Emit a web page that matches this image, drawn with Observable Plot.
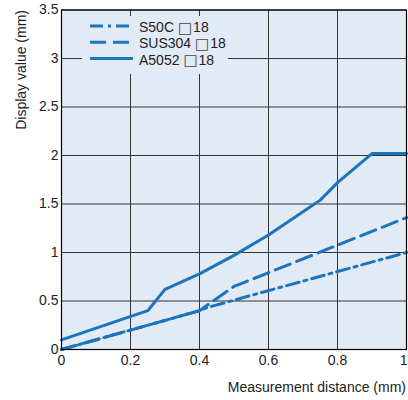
<!DOCTYPE html>
<html><head><meta charset="utf-8">
<script src="https://cdn.jsdelivr.net/npm/d3@7"></script>
<script src="https://cdn.jsdelivr.net/npm/@observablehq/plot@0.6"></script>
<style>body{margin:0;background:#fff}</style>
</head><body><div id="chart"></div>
<script>
const xTicks = [0, 0.2, 0.4, 0.6, 0.8, 1];
const yTicks = [0, 0.5, 1, 1.5, 2, 2.5, 3, 3.5];
const seriesNames = ["S50C \u25A118", "SUS304 \u25A118", "A5052 \u25A118"];
const s50cX = [0, 0.4, 0.42, 1];
const s50cY = [0, 0.4, 0.43, 1.0];
const sus304X = [0, 0.4, 0.5, 1];
const sus304Y = [0, 0.4, 0.65, 1.36];
const a5052X = [0, 0.25, 0.3, 0.4, 0.5, 0.6, 0.7, 0.75, 0.8, 0.9, 1];
const a5052Y = [0.1, 0.4, 0.62, 0.78, 0.97, 1.18, 1.42, 1.54, 1.72, 2.02, 2.02];
const xLabel = "Measurement distance (mm)";
const yLabel = "Display value (mm)";

const blue = "#1b75bc";
const dashes = ["13,5,3,5", "16,7", null];
const toRows = (xs, ys, s) => xs.map((x, i) => ({x, y: ys[i], s}));
const rows = [
  ...toRows(s50cX, s50cY, seriesNames[0]),
  ...toRows(sus304X, sus304Y, seriesNames[1]),
  ...toRows(a5052X, a5052Y, seriesNames[2])
];
const font = "'Liberation Sans', Arial, sans-serif";
const fmt = d => String(d);

const plot = Plot.plot({
  width: 408, height: 400,
  marginLeft: 61, marginRight: 2, marginTop: 9.5, marginBottom: 51,
  style: {fontSize: "14px", fontFamily: font, color: "#222", background: "#fff"},
  x: {domain: [0, 1], label: null},
  y: {domain: [0, 3.5], label: null},
  marks: [
    Plot.frame({fill: "#e2eaf5"}),
    Plot.ruleX(xTicks, {stroke: "#333", strokeWidth: 1}),
    Plot.ruleY(yTicks, {stroke: "#333", strokeWidth: 1}),
    ...seriesNames.map((name, i) => Plot.line(rows.filter(d => d.s === name), {
      x: "x", y: "y", stroke: blue, strokeWidth: 3, strokeDasharray: dashes[i], strokeLinejoin: "miter"
    })),
    Plot.frame({stroke: "#000", strokeWidth: 1.2}),
    Plot.axisX(xTicks.slice(0, -1), {tickSize: 0, tickPadding: 6, tickFormat: fmt, label: null}),
    Plot.axisX(xTicks.slice(-1), {tickSize: 0, tickPadding: 6, tickFormat: fmt, label: null, textAnchor: "end", dx: 1}),
    Plot.axisY(yTicks, {tickSize: 0, tickPadding: 3, tickFormat: fmt, label: null})
  ]
});
document.getElementById("chart").appendChild(plot);

const svg = d3.select(plot);
const lg = svg.append("g").attr("text-anchor", "start");
lg.append("rect").attr("x", 82).attr("y", 16).attr("width", 146).attr("height", 58).attr("fill", "#e2eaf5");
seriesNames.forEach((name, i) => {
  const cy = 26 + i * 16.3;
  lg.append("line").attr("x1", 90).attr("x2", 133).attr("y1", cy).attr("y2", cy)
    .attr("stroke", blue).attr("stroke-width", 3).attr("stroke-dasharray", dashes[i]);
  const t = lg.append("text").attr("x", 139).attr("y", cy + 6).attr("font-size", 14).attr("font-family", font)
    .attr("text-anchor", "start").attr("fill", "#222");
  const parts = name.split("\u25A1");
  t.append("tspan").text(parts[0]);
  t.append("tspan").attr("font-family", "'DejaVu Sans', sans-serif").attr("font-size", 15)
    .attr("dy", 0.5).attr("fill", "#444").text("\u25A1");
  t.append("tspan").attr("dy", -0.5).attr("dx", 1).text(parts[1]);
});
svg.append("text").attr("x", 406).attr("y", 392).attr("text-anchor", "end")
  .attr("font-size", 14).attr("font-family", font).attr("fill", "#222").text(xLabel);
svg.append("text").attr("transform", "translate(26,10) rotate(-90)").attr("text-anchor", "end")
  .attr("font-size", 14).attr("font-family", font).attr("fill", "#222").text(yLabel);
</script>
</body></html>
